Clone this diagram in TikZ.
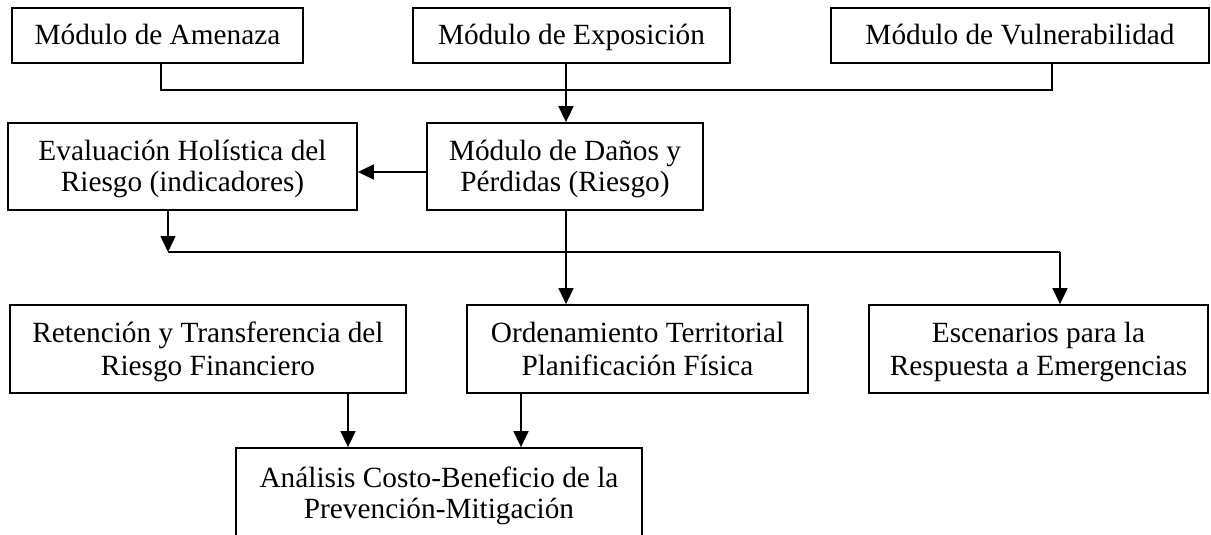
\documentclass[tikz,border=0pt]{standalone}
\usepackage{fontspec}
\setmainfont{Liberation Serif}
\usetikzlibrary{arrows.meta}
\begin{document}
\begin{tikzpicture}[x=1pt,y=-1pt,
  box/.style={draw, line width=1.8pt, inner sep=0pt, rectangle},
  lbl/.style={anchor=base, inner sep=0pt, font=\fontsize{29.3}{32}\selectfont},
  conn/.style={line width=1.6pt},
  arr/.style={conn, -{Triangle[length=16pt,width=15pt]}}]
\useasboundingbox (0,0) rectangle (1211,535);
\clip (0,0) rectangle (1211,535);
\fill[white] (0,0) rectangle (1211,535);
% boxes
\node[box, minimum width=291pt, minimum height=55pt] (amen) at (157.5,35.5) {};
\node[box, minimum width=317pt, minimum height=55pt] (expo) at (571.5,35.5) {};
\node[box, minimum width=378pt, minimum height=55pt] (vuln) at (1020,35.5) {};
\node[box, minimum width=349pt, minimum height=87pt] (eval) at (182.5,166.5) {};
\node[box, minimum width=276pt, minimum height=87pt] (danos) at (565,166.5) {};
\node[box, minimum width=396pt, minimum height=88pt] (ret) at (208,349) {};
\node[box, minimum width=341pt, minimum height=88pt] (orden) at (637.5,349) {};
\node[box, minimum width=339pt, minimum height=88pt] (esc) at (1038.5,349) {};
\node[box, minimum width=406pt, minimum height=88pt] (anal) at (439,492) {};
% texts
\node[lbl] (amen-t) at (157.5,45) {Módulo de Amenaza};
\node[lbl] (expo-t) at (571.5,45) {Módulo de Exposición};
\node[lbl] (vuln-t) at (1020,45) {Módulo de Vulnerabilidad};
\node[lbl] (eval-t1) at (182.5,160.5) {Evaluación Holística del};
\node[lbl] (eval-t2) at (182.5,191.5) {Riesgo (indicadores)};
\node[lbl] (danos-t1) at (565,160.5) {Módulo de Daños y};
\node[lbl] (danos-t2) at (565,191.5) {Pérdidas (Riesgo)};
\node[lbl] (ret-t1) at (208,342) {Retención y Transferencia del};
\node[lbl] (ret-t2) at (208,375) {Riesgo Financiero};
\node[lbl] (orden-t1) at (637.5,342) {Ordenamiento Territorial};
\node[lbl] (orden-t2) at (637.5,375) {Planificación Física};
\node[lbl] (esc-t1) at (1038.5,342) {Escenarios para la};
\node[lbl] (esc-t2) at (1038.5,375) {Respuesta a Emergencias};
\node[lbl] (anal-t1) at (439,487) {Análisis Costo-Beneficio de la};
\node[lbl] (anal-t2) at (439,518) {Prevención-Mitigación};
% helper coordinates
\coordinate (c1) at (161,90);
\coordinate (c2) at (1052,90);
\coordinate (cx) at (566,0);
\coordinate (cy) at (0,172);
\coordinate (j1) at (168,252);
\coordinate (j2) at (1060,252);
\coordinate (c5) at (348,0);
\coordinate (c6) at (521,0);
% connectors
\draw[conn] (amen.south -| c1) -- (c1) -- (c2) -- (vuln.south -| c2);
\draw[arr] (expo.south -| cx) -- (danos.north -| cx);
\draw[arr] (danos.west |- cy) -- (eval.east |- cy);
\draw[arr] (eval.south -| j1) -- (j1);
\draw[conn] (j1) -- (j2);
\draw[arr] (j2) -- (esc.north -| j2);
\draw[arr] (danos.south -| cx) -- (orden.north -| cx);
\draw[arr] (ret.south -| c5) -- (anal.north -| c5);
\draw[arr] (orden.south -| c6) -- (anal.north -| c6);
\end{tikzpicture}
\end{document}
